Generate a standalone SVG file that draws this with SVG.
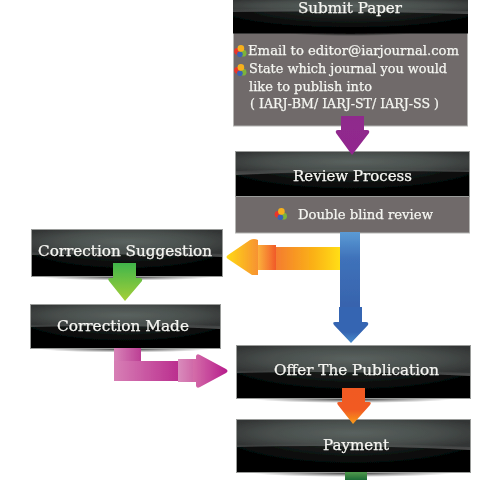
<svg xmlns="http://www.w3.org/2000/svg" width="480" height="480" viewBox="0 0 480 480">
<style>
text{font-family:"DejaVu Serif","Liberation Serif",serif;fill:#f6f6f2;stroke:#f6f6f2;stroke-width:.25px;text-anchor:start}
.t{font-size:15px}
.s{font-size:13.5px}
.frame{fill:none;stroke:#9a9c9a;stroke-width:1}
.body{fill:#6f6b6a;stroke:#b5b5b3;stroke-width:1}
svg>g{filter:url(#soft)}
</style>
<defs>
<filter id="soft" x="-5%" y="-5%" width="110%" height="110%"><feGaussianBlur stdDeviation="0.35"/></filter>
<radialGradient id="top" cx="0.5" cy="0.45" r="0.6"><stop offset="0" stop-color="#5a625f"/><stop offset=".6" stop-color="#484e4c"/><stop offset="1" stop-color="#323434"/></radialGradient>
<radialGradient id="bot" cx="0.5" cy="0.25" r="0.6"><stop offset="0" stop-color="#2a302d"/><stop offset=".7" stop-color="#101312"/><stop offset="1" stop-color="#030404"/></radialGradient>
<linearGradient id="gloss" x1="0" y1="0" x2="0" y2="1"><stop offset="0" stop-color="#fff" stop-opacity="0"/><stop offset="1" stop-color="#fff" stop-opacity=".14"/></linearGradient>
<radialGradient id="shadow"><stop offset="0" stop-color="#000" stop-opacity=".75"/><stop offset="1" stop-color="#000" stop-opacity="0"/></radialGradient>
<linearGradient id="purple" x1="0" y1="0" x2="0" y2="1"><stop offset="0" stop-color="#8f2a8c"/><stop offset="1" stop-color="#92278f"/></linearGradient>
<linearGradient id="blue" x1="0" y1="0" x2="0" y2="1"><stop offset="0" stop-color="#5b9bd5"/><stop offset=".35" stop-color="#3f72ba"/><stop offset="1" stop-color="#3763ad"/></linearGradient>
<linearGradient id="blue2" x1="0" y1="0" x2="0" y2="1"><stop offset="0" stop-color="#3565b2"/><stop offset=".7" stop-color="#3565b2"/><stop offset="1" stop-color="#4a8ccc"/></linearGradient>
<linearGradient id="orangeShaft" x1="0" y1="0" x2="1" y2="0"><stop offset="0" stop-color="#f47c30"/><stop offset=".6" stop-color="#fbb316"/><stop offset="1" stop-color="#ffde17"/></linearGradient>
<linearGradient id="orangeHead" x1="0" y1="0" x2="1" y2="0"><stop offset="0" stop-color="#ffd914"/><stop offset="1" stop-color="#f79232"/></linearGradient>
<linearGradient id="orangeBox" x1="0" y1="0" x2="1" y2="0"><stop offset="0" stop-color="#fbb03b"/><stop offset="1" stop-color="#f15a29"/></linearGradient>
<linearGradient id="green" x1="0" y1="0" x2="0" y2="1"><stop offset="0" stop-color="#3fb54a"/><stop offset="1" stop-color="#a5cf38"/></linearGradient>
<linearGradient id="pinkV" x1="0" y1="0" x2="1" y2="0"><stop offset="0" stop-color="#d884b8"/><stop offset="1" stop-color="#bc3f94"/></linearGradient>
<linearGradient id="pinkH" x1="0" y1="0" x2="1" y2="0"><stop offset="0" stop-color="#d77fb5"/><stop offset="1" stop-color="#bb2f8f"/></linearGradient>
<linearGradient id="pinkB" x1="0" y1="0" x2="1" y2="0"><stop offset="0" stop-color="#d98cbc"/><stop offset="1" stop-color="#d06aa9"/></linearGradient>
<linearGradient id="pinkT" x1="0" y1="0" x2="1" y2="0"><stop offset="0" stop-color="#d46ea9"/><stop offset="1" stop-color="#b71c8c"/></linearGradient>
<linearGradient id="red" x1="0" y1="0" x2="0" y2="1"><stop offset="0" stop-color="#f05a22"/><stop offset=".6" stop-color="#f15a22"/><stop offset="1" stop-color="#f99d1c"/></linearGradient>
<linearGradient id="dgreen" x1="0" y1="0" x2="0" y2="1"><stop offset="0" stop-color="#4f9a4c"/><stop offset="1" stop-color="#1f6b36"/></linearGradient>
<g id="bullet">
<circle cx="-3" cy="0.3" r="3.4" fill="#e8362c"/>
<circle cx="2.6" cy="2.2" r="3.4" fill="#7db33a"/>
<circle cx="-0.6" cy="3.2" r="2.8" fill="#3a62b4"/>
<circle cx="0.4" cy="-2.6" r="3.3" fill="#f6b01e"/>
</g>
</defs>

<g id="submit-paper">
<rect class="body" x="233.500" y="30" width="234" height="96"/>
<rect x="233" y="-1" width="235" height="34.500" fill="url(#bot)"/>
<path d="M233 -1H468V14Q350 10 233 12Z" fill="url(#top)"/>
<path d="M233 9Q350 7 468 11V14Q350 11 233 12Z" fill="url(#gloss)"/>
<ellipse cx="350" cy="33.500" rx="60" ry="2.500" fill="url(#shadow)"/>
<text class="t" x="298" y="13" textLength="104" lengthAdjust="spacingAndGlyphs">Submit Paper</text>
<use href="#bullet" x="240.500" y="51"/>
<text class="s" x="248" y="55" textLength="211" lengthAdjust="spacingAndGlyphs">Email to editor@iarjournal.com</text>
<use href="#bullet" x="240.500" y="70"/>
<text class="s" x="249" y="73" textLength="198" lengthAdjust="spacingAndGlyphs">State which journal you would</text>
<text class="s" x="249" y="91" textLength="123" lengthAdjust="spacingAndGlyphs">like to publish into</text>
<text class="s" x="250" y="108" textLength="189" lengthAdjust="spacingAndGlyphs">( IARJ-BM/ IARJ-ST/ IARJ-SS )</text>
</g>

<g id="review-process">
<rect class="body" x="235.500" y="190" width="234" height="43"/>
<rect x="235" y="151" width="235" height="45.500" fill="url(#bot)"/>
<path d="M235 151H470V172Q350 169 235 175Z" fill="url(#top)"/>
<path d="M235 171Q350 167 470 170V172Q350 170 235 175Z" fill="url(#gloss)"/>
<rect class="frame" x="235.500" y="151.500" width="234" height="45"/>
<text class="t" x="293" y="181" textLength="119" lengthAdjust="spacingAndGlyphs">Review Process</text>
<use href="#bullet" x="281" y="214"/>
<text class="s" x="298" y="219" textLength="135" lengthAdjust="spacingAndGlyphs">Double blind review</text>
</g>

<g id="correction-suggestion">
<ellipse cx="127" cy="277" rx="85" ry="3.500" fill="url(#shadow)"/>
<rect x="31" y="229" width="192" height="47.500" fill="url(#bot)"/>
<path d="M31 229H223V257Q130 253 31 255Z" fill="url(#top)"/>
<path d="M31 252Q130 250 223 254V257Q130 253 31 255Z" fill="url(#gloss)"/>
<rect class="frame" x="31.500" y="229.500" width="191" height="47"/>
<text class="t" x="38" y="256" textLength="174" lengthAdjust="spacingAndGlyphs">Correction Suggestion</text>
</g>

<g id="correction-made">
<ellipse cx="125" cy="349" rx="85" ry="3.500" fill="url(#shadow)"/>
<rect x="30" y="304" width="191" height="44.500" fill="url(#bot)"/>
<path d="M30 304H221V329Q130 324 30 327Z" fill="url(#top)"/>
<path d="M30 325Q130 321 221 326V329Q130 324 30 327Z" fill="url(#gloss)"/>
<rect class="frame" x="30.500" y="304.500" width="190" height="44"/>
<text class="t" x="57" y="331" textLength="132" lengthAdjust="spacingAndGlyphs">Correction Made</text>
</g>

<g id="offer-the-publication">
<ellipse cx="353" cy="399" rx="100" ry="4" fill="url(#shadow)"/>
<rect x="236" y="345" width="235" height="53.500" fill="url(#bot)"/>
<path d="M236 345H471V376Q350 370 236 373Z" fill="url(#top)"/>
<path d="M236 371Q350 367 471 373V376Q350 370 236 373Z" fill="url(#gloss)"/>
<rect class="frame" x="236.500" y="345.500" width="234" height="53"/>
<text class="t" x="274" y="375" textLength="165" lengthAdjust="spacingAndGlyphs">Offer The Publication</text>
</g>

<g id="payment">
<ellipse cx="353" cy="473" rx="100" ry="4" fill="url(#shadow)"/>
<rect x="236" y="419" width="235" height="53.500" fill="url(#bot)"/>
<path d="M236 419H471V450Q350 444 236 447Z" fill="url(#top)"/>
<path d="M236 445Q350 441 471 447V450Q350 444 236 447Z" fill="url(#gloss)"/>
<rect class="frame" x="236.500" y="419.500" width="234" height="53"/>
<text class="t" x="323" y="450" textLength="66" lengthAdjust="spacingAndGlyphs">Payment</text>
</g>

<g id="connectors">
<path d="M341 116H364V130H367Q370 130 369 133L352 155L336 133Q335 130 338 130H341Z" fill="url(#purple)"/>
<path d="M276 247H340V270H276Z" fill="url(#orangeShaft)"/>
<path d="M258 245H276V270H258Z" fill="url(#orangeBox)"/>
<path d="M258 240V275L252 275L228 259Q225 257 228 255L250 240Q254 238 258 240Z" fill="url(#orangeHead)"/>
<rect x="340" y="232" width="20" height="75" fill="url(#blue)"/>
<path d="M339 307H362V322H366Q369 322 368 325L351 343L334 325Q332 322 335 322H339Z" fill="url(#blue2)"/>
<path d="M113 263H136V278H141Q143 279 142 281L125 301L109 281Q107 278 110 278H113Z" fill="url(#green)"/>
<path d="M114 348H141V361H114Z" fill="url(#pinkV)"/>
<path d="M114 361H178V381H114Z" fill="url(#pinkH)"/>
<path d="M178 359H193V382H178Z" fill="url(#pinkB)"/>
<path d="M193 359H196V356Q197 353 200 355L226 369Q229 371 226 373L200 387Q197 389 196 386V382H193Z" fill="url(#pinkT)"/>
<path d="M342 388H365V402H369Q372 402 370 405L353 424L338 405Q336 402 339 402H342Z" fill="url(#red)"/>
<rect x="345" y="472" width="22" height="8" fill="url(#dgreen)"/>
</g>
</svg>
